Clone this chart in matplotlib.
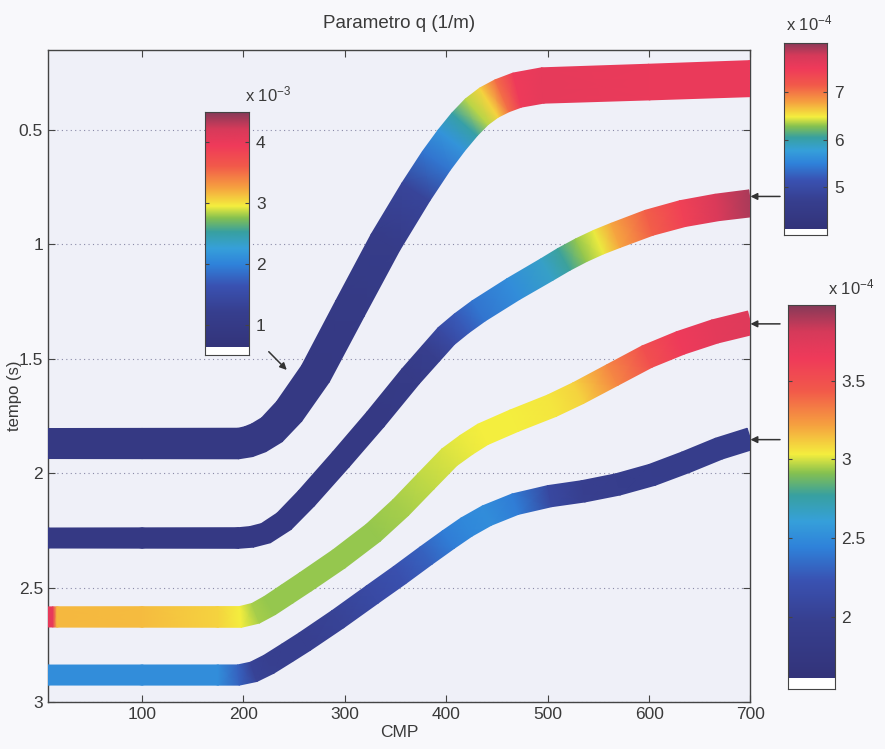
import numpy as np
import matplotlib
matplotlib.use("Agg")
from matplotlib import pyplot as plt
from matplotlib.colors import LinearSegmentedColormap

plt.rcParams['font.family'] = ['Liberation Sans', 'DejaVu Sans']
plt.rcParams['mathtext.default'] = 'regular'

# --- dati: CMP, tempo (s), parametro q ---
# banda 1 (q in 1e-3, colorbar interna)
b1_cmp = [7, 100, 195, 205, 215, 228, 245, 271, 305, 340, 370, 390, 405, 418, 430, 442, 455, 470, 495, 600, 700]
b1_t = [1.87, 1.87, 1.87, 1.862, 1.845, 1.81, 1.73, 1.565, 1.28, 0.99, 0.77, 0.635, 0.545, 0.475, 0.42, 0.38,
        0.35, 0.325, 0.305, 0.29, 0.275]
b1_q = [0.9, 0.9, 0.9, 0.9, 0.9, 0.9, 0.9, 0.9, 0.95, 1.05, 1.35, 1.9, 2.15, 2.5, 2.85, 3.05, 3.5, 3.95, 4.05,
        4.0, 4.0]

# banda 2 (q in 1e-4, colorbar in alto a destra)
b2_cmp = [7, 100, 195, 208, 222, 240, 262, 296, 330, 365, 385, 400, 415, 432, 466, 499, 516, 533, 550, 567, 600,
          633, 667, 700]
b2_t = [2.283, 2.283, 2.283, 2.278, 2.262, 2.21, 2.11, 1.94, 1.765, 1.575, 1.475, 1.40, 1.345, 1.29, 1.195, 1.11,
        1.065, 1.025, 0.99, 0.96, 0.905, 0.865, 0.838, 0.82]
b2_q = [4.4, 4.4, 4.4, 4.4, 4.4, 4.4, 4.4, 4.4, 4.4, 4.5, 4.7, 4.95, 5.2, 5.4, 5.6, 5.85, 6.05, 6.3, 6.45, 6.75,
        7.1, 7.4, 7.7, 7.9]

# banda 3 (q in 1e-4, colorbar in basso a destra)
b3_cmp = [7, 12, 16, 100, 175, 197, 212, 226, 243, 261, 294, 328, 355, 380, 403, 420, 436, 467, 504, 530, 564,
          598, 631, 665, 700]
b3_t = [2.628, 2.628, 2.628, 2.628, 2.628, 2.628, 2.612, 2.578, 2.528, 2.475, 2.375, 2.26, 2.15, 2.035, 1.93,
        1.875, 1.83, 1.77, 1.705, 1.65, 1.57, 1.49, 1.43, 1.38, 1.342]
b3_q = [3.7, 3.7, 3.16, 3.15, 3.1, 3.03, 2.95, 2.93, 2.93, 2.93, 2.93, 2.93, 2.95, 2.98, 3.0, 3.02, 3.03, 3.03,
        3.05, 3.1, 3.3, 3.5, 3.65, 3.72, 3.75]

# banda 4 (q in 1e-4, colorbar in basso a destra)
b4_cmp = [7, 100, 175, 195, 210, 225, 243, 260, 293, 327, 354, 380, 402, 420, 440, 468, 502, 535, 569, 603, 636,
          669, 700]
b4_t = [2.882, 2.882, 2.882, 2.882, 2.868, 2.835, 2.785, 2.737, 2.638, 2.53, 2.445, 2.36, 2.29, 2.235, 2.185,
        2.135, 2.10, 2.079, 2.049, 2.007, 1.952, 1.892, 1.849]
b4_q = [2.5, 2.5, 2.5, 2.3, 2.02, 1.98, 1.97, 1.97, 2.02, 2.12, 2.2, 2.3, 2.42, 2.48, 2.5, 2.42, 2.1, 1.97, 1.93,
        1.91, 1.9, 1.9, 1.9]

# colorbar: (min colore, max, limite inferiore asse)
cb1_range = (0.64, 4.49, 0.5)
cb1_ticks = [1, 2, 3, 4]
cb2_range = (4.12, 8.03, 4.0)
cb2_ticks = [5, 6, 7]
cb3_range = (1.61, 3.98, 1.54)
cb3_ticks = [2, 2.5, 3, 3.5]

arrow_t = [0.79, 1.347, 1.853]

# colormap tipo jet (come appare nella stampa)
jet_scan = LinearSegmentedColormap.from_list("jet_scan", [
    (0.00, '#33347a'), (0.15, '#373f8f'), (0.26, '#3a52b2'), (0.35, '#2f82da'),
    (0.42, '#36a0da'), (0.49, '#38a0a0'), (0.55, '#86c150'), (0.60, '#f4ee3e'),
    (0.68, '#f6a040'), (0.77, '#f25a4a'), (0.86, '#ef3a5a'), (0.93, '#d63a5a'),
    (1.00, '#873a58')])

TXT = '#3a3a3a'

fig = plt.figure(figsize=(8.85, 7.49), dpi=100, facecolor='#f8f8fb')
ax = fig.add_axes([0.054, 0.0627, 0.794, 0.8705])
ax.set_facecolor('#eff0f8')
ax.set_xlim(7, 700)
ax.set_ylim(3, 0.15)

# scala in pixel per calcolare lo spessore della banda
sx = 0.794 * 885 / (700 - 7)
sy = 0.8705 * 749 / (3 - 0.15)


def draw_band(cmp, t, q, w, rng):
    x = np.asarray(cmp, float)
    y = np.asarray(t, float)
    c = np.asarray(q, float)
    px, py = x * sx, y * sy
    dx, dy = np.gradient(px), np.gradient(py)
    n = np.hypot(dx, dy)
    nx, ny = -dy / n, dx / n
    hw = np.linspace(w[0], w[1], len(x)) / 2
    X = np.vstack([x + nx * hw / sx, x - nx * hw / sx])
    Y = np.vstack([y + ny * hw / sy, y - ny * hw / sy])
    C = np.vstack([c, c])
    ax.pcolormesh(X, Y, C, shading='gouraud', cmap=jet_scan, vmin=rng[0], vmax=rng[1],
                  zorder=3, rasterized=True)


draw_band(b1_cmp, b1_t, b1_q, (30, 36), cb1_range)
draw_band(b2_cmp, b2_t, b2_q, (20, 27), cb2_range)
draw_band(b3_cmp, b3_t, b3_q, (20, 24), cb3_range)
draw_band(b4_cmp, b4_t, b4_q, (20, 22), cb3_range)

ax.set_xticks([100, 200, 300, 400, 500, 600, 700])
ax.set_yticks([0.5, 1, 1.5, 2, 2.5, 3])
ax.set_yticklabels(['0.5', '1', '1.5', '2', '2.5', '3'])
ax.tick_params(direction='in', top=True, right=True, length=5, labelsize=12.5, colors='#444', labelcolor=TXT)
ax.yaxis.grid(True, linestyle=(0, (1, 3)), color='#8a8aa8', linewidth=0.8, zorder=1)
for s in ax.spines.values():
    s.set_color('#444')
    s.set_linewidth(1.0)

ax.set_title('Parametro q (1/m)', fontsize=13.5, color=TXT, pad=16)
ax.set_xlabel('CMP', fontsize=12.5, color=TXT, labelpad=2)
ax.set_ylabel('tempo (s)', fontsize=12, color=TXT)
ax.yaxis.set_label_coords(-0.037, 0.47)


def colorbar(rect, rng, ticks, exp, lab_xy):
    cax = fig.add_axes(rect)
    cax.set_facecolor('white')
    grad = np.linspace(rng[0], rng[1], 256).reshape(-1, 1)
    cax.imshow(grad, aspect='auto', origin='lower', extent=[0, 1, rng[0], rng[1]],
               cmap=jet_scan, vmin=rng[0], vmax=rng[1])
    cax.set_xlim(0, 1)
    cax.set_ylim(rng[2], rng[1])
    cax.set_xticks([])
    cax.set_yticks(ticks)
    cax.set_yticklabels([f'{v:g}' for v in ticks])
    cax.yaxis.tick_right()
    cax.tick_params(direction='in', left=True, right=True, length=3, labelsize=12.5,
                    colors='#444', labelcolor=TXT, pad=5)
    for s in cax.spines.values():
        s.set_color('#444')
    cax.text(lab_xy[0], lab_xy[1], r'x 10$^{' + exp + '}$', transform=cax.transAxes,
             ha='left', va='bottom', fontsize=12, color=TXT)
    return cax


colorbar([0.2316, 0.526, 0.0497, 0.3244], cb1_range, cb1_ticks, '-3', (0.92, 1.03))
colorbar([0.886, 0.6863, 0.0486, 0.2563], cb2_range, cb2_ticks, '-4', (0.05, 1.05))
colorbar([0.890, 0.0801, 0.0531, 0.5127], cb3_range, cb3_ticks, '-4', (0.85, 1.02))

# frecce
ax.annotate('', xy=(244.6, 1.557), xytext=(223, 1.46),
            arrowprops=dict(arrowstyle='-|>', color='#333', lw=1.1, mutation_scale=10), zorder=5)
for ty in arrow_t:
    ax.annotate('', xy=(0.996, ty), xycoords=('axes fraction', 'data'),
                xytext=(1.046, ty), textcoords=('axes fraction', 'data'),
                arrowprops=dict(arrowstyle='-|>', color='#333', lw=1.1, mutation_scale=10),
                annotation_clip=False)

fig.savefig('out.png', dpi=100, facecolor=fig.get_facecolor())
